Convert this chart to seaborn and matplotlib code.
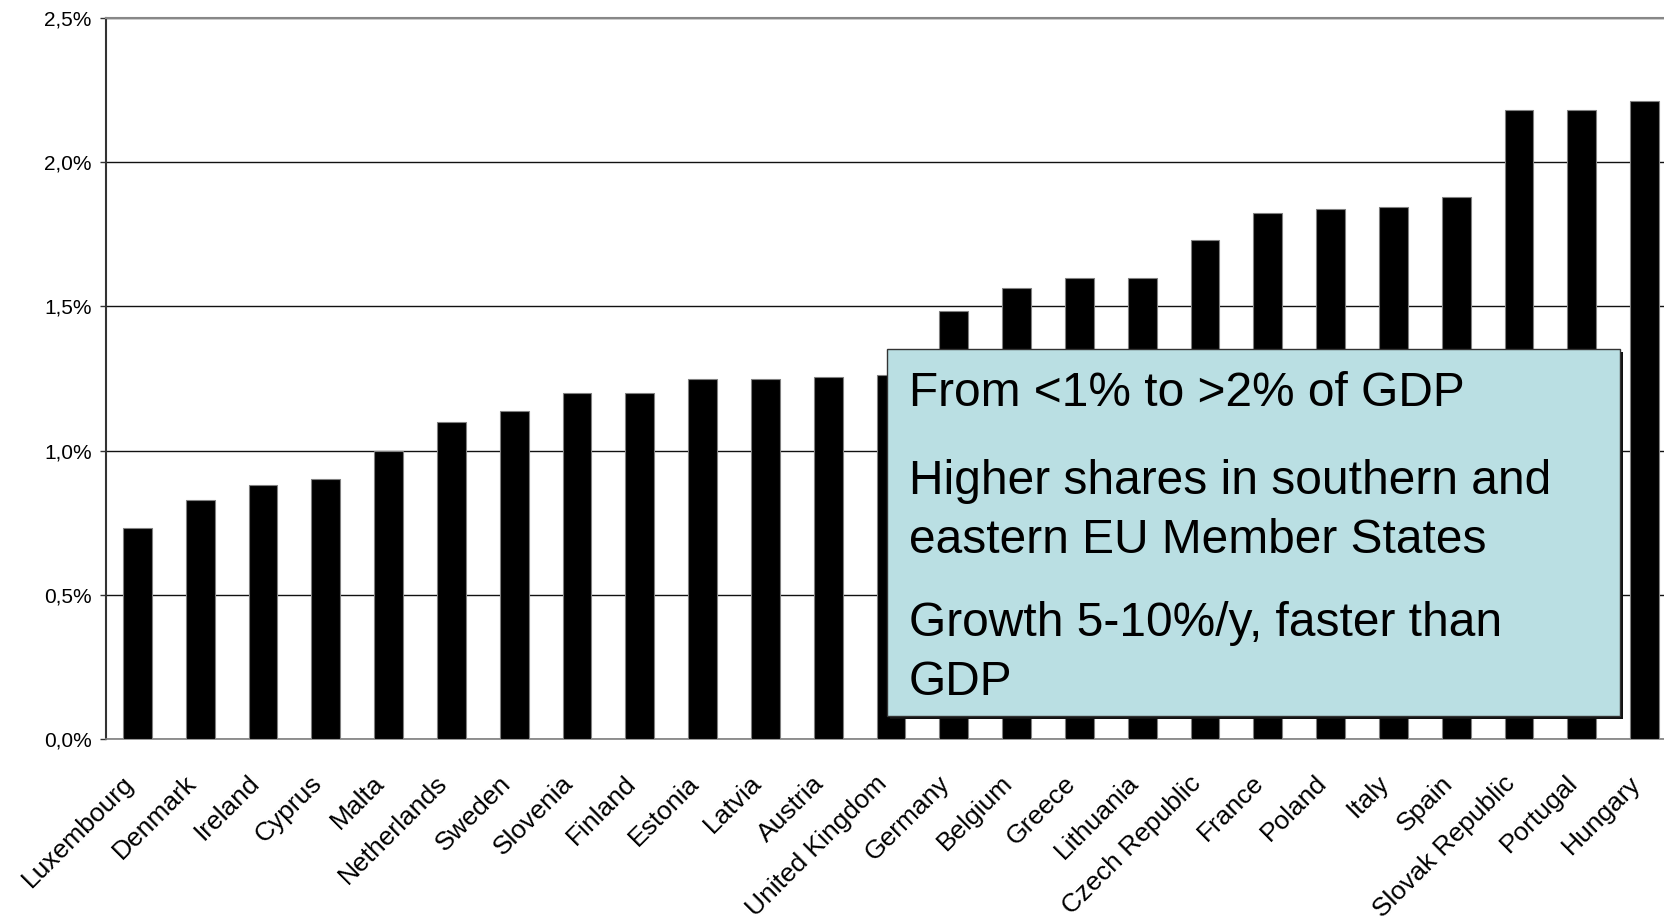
import numpy as np
import pandas as pd
import seaborn as sns
from matplotlib import pyplot as plt
from matplotlib.patches import Rectangle
from matplotlib.transforms import ScaledTranslation

countries = ["Luxembourg", "Denmark", "Ireland", "Cyprus", "Malta", "Netherlands",
             "Sweden", "Slovenia", "Finland", "Estonia", "Latvia", "Austria",
             "United Kingdom", "Germany", "Belgium", "Greece", "Lithuania",
             "Czech Republic", "France", "Poland", "Italy", "Spain",
             "Slovak Republic", "Portugal", "Hungary"]
share_gdp = [0.733, 0.828, 0.880, 0.902, 1.000, 1.100,
             1.138, 1.200, 1.200, 1.248, 1.248, 1.255,
             1.263, 1.484, 1.565, 1.598, 1.598,
             1.730, 1.823, 1.837, 1.845, 1.878,
             2.180, 2.180, 2.213]
y_ticks = [0.0, 0.5, 1.0, 1.5, 2.0, 2.5]
y_tick_labels = ["0,0%", "0,5%", "1,0%", "1,5%", "2,0%", "2,5%"]
box_lines = ["From <1% to >2% of GDP",
             "Higher shares in southern and\neastern EU Member States",
             "Growth 5-10%/y, faster than\nGDP"]

df = pd.DataFrame({"country": countries, "share": share_gdp})

sns.set_style("white")
plt.rcParams["font.family"] = ["Liberation Sans", "DejaVu Sans"]
plt.rcParams["text.color"] = "black"
plt.rcParams["xtick.color"] = "black"
plt.rcParams["ytick.color"] = "black"

W, H = 1664, 917
fig = plt.figure(figsize=(W / 100, H / 100), dpi=100)
ax = fig.add_axes([106 / W, 1 - 739 / H, 1570 / W, (739 - 18) / H])

sns.barplot(data=df, x="country", y="share", color="black", width=0.46,
            edgecolor="#808080", linewidth=0.8, saturation=1, ax=ax, zorder=3)

n = len(countries)
ax.set_xlim(-0.5, n - 0.5)
ax.set_ylim(0, 2.5)
ax.set_yticks(y_ticks)
ax.set_yticklabels(y_tick_labels, fontsize=15)
ax.yaxis.grid(True, color="#111111", linewidth=1.0, zorder=0)
ax.set_axisbelow(True)

# category boundaries as ticks, labels at centres
ax.set_xticks(np.arange(-0.5, n, 1.0))
ax.set_xticklabels([])
ax.set_xticks(np.arange(n), minor=True)
ax.set_xticklabels(countries, minor=True, rotation=45, ha="right", va="top",
                   rotation_mode="anchor", fontsize=19)
ax.tick_params(axis="x", which="major", length=6, width=1, color="#555555", direction="out")
ax.tick_params(axis="x", which="minor", length=0, pad=23)
ax.tick_params(axis="y", length=4.5, width=1, color="#333333", pad=5.8, left=True)
shift = ScaledTranslation(-0.16, 0, fig.dpi_scale_trans)
for lab in ax.get_xticklabels(minor=True):
    lab.set_transform(lab.get_transform() + shift)

ax.set_xlabel("")
ax.set_ylabel("")
ax.spines["right"].set_visible(False)
ax.spines["left"].set_color("#333333")
ax.spines["left"].set_linewidth(1.5)
ax.spines["bottom"].set_color("#808080")
ax.spines["bottom"].set_linewidth(1.2)
ax.spines["top"].set_color("#888888")
ax.spines["top"].set_linewidth(1.5)

# annotation box with a small shadow
bx0, bx1, by0, by1 = 887, 1620, 349, 716
fig.patches.append(Rectangle(((bx0 + 3) / W, 1 - (by1 + 3) / H), (bx1 - bx0) / W,
                             (by1 - by0) / H, transform=fig.transFigure,
                             facecolor="#111111", edgecolor="none", zorder=5))
fig.patches.append(Rectangle((bx0 / W, 1 - by1 / H), (bx1 - bx0) / W,
                             (by1 - by0) / H, transform=fig.transFigure,
                             facecolor="#BADFE3", edgecolor="#333333",
                             linewidth=1.0, zorder=6))
for txt, yc in zip(box_lines, [394, 511, 653]):
    fig.text(909 / W, 1 - yc / H, txt, fontsize=34.5, va="center", ha="left",
             linespacing=1.38, color="black", zorder=7)

fig.savefig("out.png", dpi=100)
